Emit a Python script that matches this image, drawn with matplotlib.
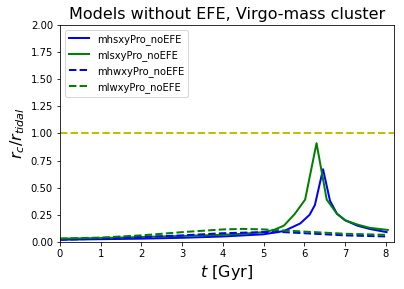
import matplotlib
matplotlib.use("Agg")
import matplotlib.pyplot as plt

# mhsxyPro_noEFE (blue solid)
t_mhs = [0, 1, 2, 3, 4, 5, 5.5, 5.9, 6.13, 6.26, 6.46, 6.63, 6.8, 7.0, 7.3, 7.6, 8.02]
r_mhs = [0.02, 0.025, 0.03, 0.038, 0.05, 0.07, 0.1, 0.17, 0.25, 0.34, 0.67, 0.38, 0.26, 0.2, 0.15, 0.12, 0.09]
# mlsxyPro_noEFE (green solid)
t_mls = [0, 1, 2, 3, 4, 4.5, 5, 5.25, 5.5, 5.77, 6.02, 6.3, 6.55, 6.8, 7.0, 7.3, 7.6, 8.05]
r_mls = [0.03, 0.035, 0.045, 0.055, 0.065, 0.075, 0.09, 0.11, 0.15, 0.26, 0.39, 0.91, 0.39, 0.26, 0.2, 0.16, 0.13, 0.11]
# mhwxyPro_noEFE (blue dashed)
t_mhw = [0, 1, 2, 3, 4, 5, 5.5, 6, 6.5, 7, 7.5, 8.02]
r_mhw = [0.02, 0.03, 0.045, 0.06, 0.08, 0.09, 0.09, 0.08, 0.07, 0.06, 0.055, 0.05]
# mlwxyPro_noEFE (green dashed)
t_mlw = [0, 1, 2, 3, 4, 4.5, 5, 5.5, 6, 6.5, 7, 7.5, 8.02]
r_mlw = [0.03, 0.04, 0.06, 0.09, 0.115, 0.12, 0.115, 0.105, 0.095, 0.085, 0.075, 0.07, 0.065]

fig = plt.figure(figsize=(404/72, 289/72), dpi=72)
ax = fig.add_axes([0.1485, 0.163, 0.8265, 0.7505])
ax.plot(t_mhs, r_mhs, 'b-', lw=2, label='mhsxyPro_noEFE')
ax.plot(t_mls, r_mls, 'g-', lw=2, label='mlsxyPro_noEFE')
ax.plot(t_mhw, r_mhw, 'b--', lw=2, label='mhwxyPro_noEFE')
ax.plot(t_mlw, r_mlw, 'g--', lw=2, label='mlwxyPro_noEFE')
ax.axhline(1.0, color='y', ls='--', lw=2)
ax.set_xlim(0, 8.2)
ax.set_ylim(0, 2)
ax.set_yticks([0, 0.25, 0.5, 0.75, 1.0, 1.25, 1.5, 1.75, 2.0])
ax.set_xticks(range(9))
ax.set_title('Models without EFE, Virgo-mass cluster', fontsize=16)
ax.set_xlabel(r'$t$ [Gyr]', fontsize=16)
ax.set_ylabel(r'$r_c/r_{tidal}$', fontsize=16)
ax.legend(loc='upper left')
fig.savefig('out.png', dpi=72)
